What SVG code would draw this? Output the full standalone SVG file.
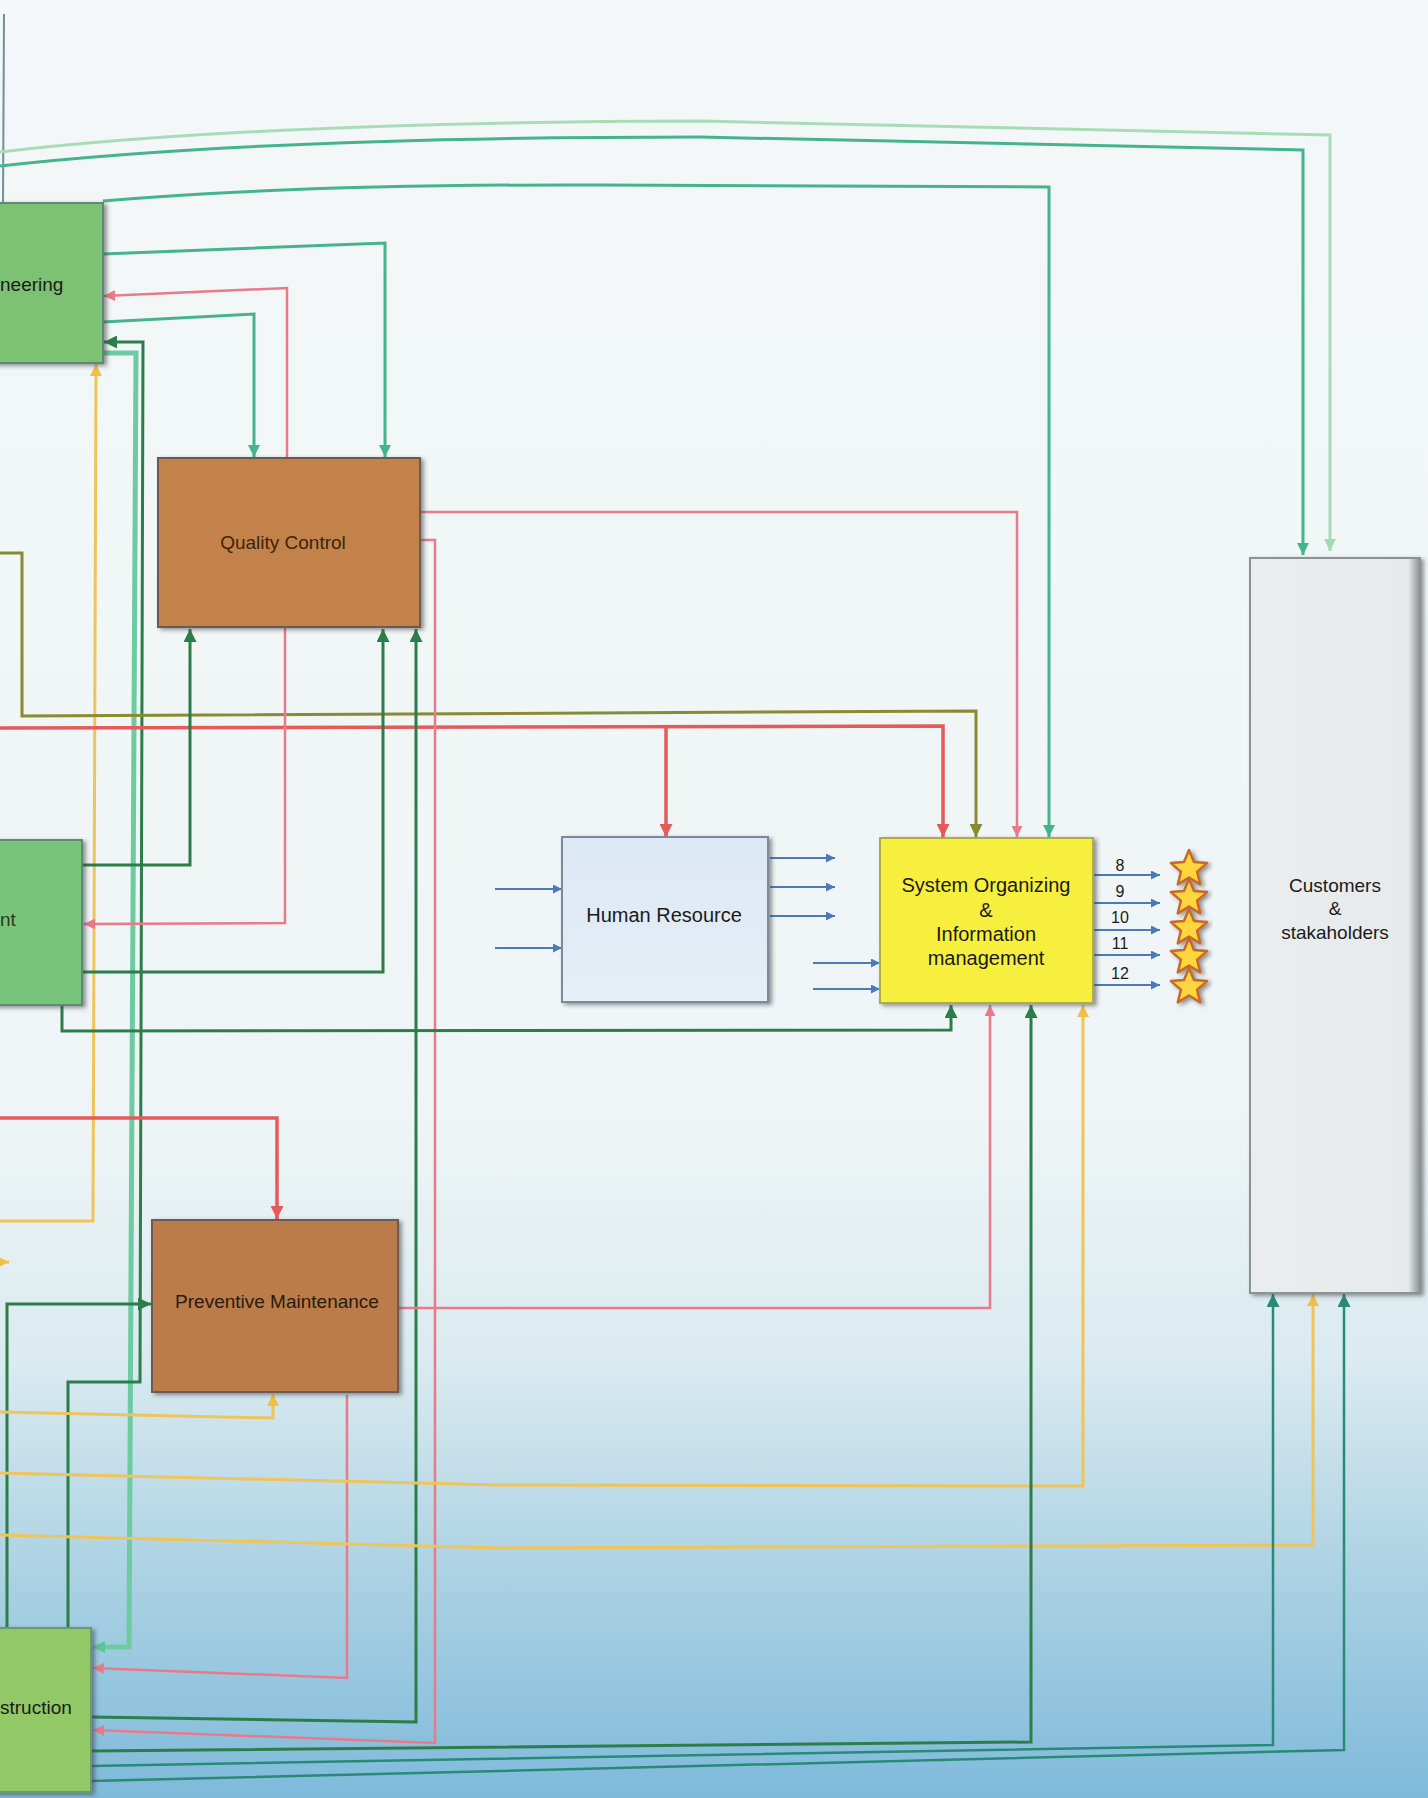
<svg xmlns="http://www.w3.org/2000/svg" width="1428" height="1798" viewBox="0 0 1428 1798">
<defs>
<linearGradient id="bg" x1="0" y1="0" x2="0" y2="1">
<stop offset="0" stop-color="#f3f7f7"/>
<stop offset="0.62" stop-color="#eff5f6"/>
<stop offset="0.76" stop-color="#d9eaf0"/>
<stop offset="0.88" stop-color="#aad1e3"/>
<stop offset="1" stop-color="#7fbadb"/>
</linearGradient>
<linearGradient id="hrfill" x1="0" y1="0" x2="0" y2="1">
<stop offset="0" stop-color="#dce8f4"/>
<stop offset="1" stop-color="#e6eef6"/>
</linearGradient>
<linearGradient id="custfill" x1="0" y1="0" x2="1" y2="0">
<stop offset="0" stop-color="#e9eded"/>
<stop offset="0.93" stop-color="#e6eaea"/>
<stop offset="1" stop-color="#8a9090"/>
</linearGradient>
<filter id="sh" x="-10%" y="-10%" width="125%" height="125%">
<feDropShadow dx="3" dy="2" stdDeviation="2" flood-color="#404040" flood-opacity="0.55"/>
</filter>
<marker id="a-red" viewBox="0 0 10 10" refX="10" refY="5" markerWidth="13" markerHeight="13" markerUnits="userSpaceOnUse" orient="auto"><path d="M0,0 L10,5 L0,10 z" fill="#e55a5a"/></marker>
<marker id="a-pink" viewBox="0 0 10 10" refX="10" refY="5" markerWidth="11" markerHeight="11" markerUnits="userSpaceOnUse" orient="auto"><path d="M0,0 L10,5 L0,10 z" fill="#e87a8a"/></marker>
<marker id="a-teal" viewBox="0 0 10 10" refX="10" refY="5" markerWidth="12" markerHeight="12" markerUnits="userSpaceOnUse" orient="auto"><path d="M0,0 L10,5 L0,10 z" fill="#45b48c"/></marker>
<marker id="a-pale" viewBox="0 0 10 10" refX="10" refY="5" markerWidth="12" markerHeight="12" markerUnits="userSpaceOnUse" orient="auto"><path d="M0,0 L10,5 L0,10 z" fill="#9fdab0"/></marker>
<marker id="a-lteal" viewBox="0 0 10 10" refX="10" refY="5" markerWidth="12" markerHeight="12" markerUnits="userSpaceOnUse" orient="auto"><path d="M0,0 L10,5 L0,10 z" fill="#5cc496"/></marker>
<marker id="a-dg" viewBox="0 0 10 10" refX="10" refY="5" markerWidth="13" markerHeight="13" markerUnits="userSpaceOnUse" orient="auto"><path d="M0,0 L10,5 L0,10 z" fill="#2d7d4a"/></marker>
<marker id="a-bt" viewBox="0 0 10 10" refX="10" refY="5" markerWidth="13" markerHeight="13" markerUnits="userSpaceOnUse" orient="auto"><path d="M0,0 L10,5 L0,10 z" fill="#2a8a78"/></marker>
<marker id="a-olive" viewBox="0 0 10 10" refX="10" refY="5" markerWidth="13" markerHeight="13" markerUnits="userSpaceOnUse" orient="auto"><path d="M0,0 L10,5 L0,10 z" fill="#8a8a34"/></marker>
<marker id="a-yel" viewBox="0 0 10 10" refX="10" refY="5" markerWidth="12" markerHeight="12" markerUnits="userSpaceOnUse" orient="auto"><path d="M0,0 L10,5 L0,10 z" fill="#efbf4a"/></marker>
<marker id="a-blue" viewBox="0 0 10 10" refX="10" refY="5" markerWidth="10" markerHeight="9" markerUnits="userSpaceOnUse" orient="auto"><path d="M0,0 L10,5 L0,10 z" fill="#4a7ab8"/></marker>
<path id="star" d="M0,-19 L5,-6.9 L18.1,-5.9 L8.1,2.6 L11.2,15.4 L0,8.5 L-11.2,15.4 L-8.1,2.6 L-18.1,-5.9 L-5,-6.9 Z"/>
<style>
.c{fill:none;stroke-linejoin:miter}
.red{stroke:#e55a5a;stroke-width:3.5}
.pink{stroke:#e87a8a;stroke-width:2.5}
.teal{stroke:#45b48c;stroke-width:3}
.pale{stroke:#a8dcb8;stroke-width:3}
.lteal{stroke:#6ccba0;stroke-width:5}
.dg{stroke:#2d7d4a;stroke-width:3}
.bt{stroke:#2a8a78;stroke-width:2.5}
.olive{stroke:#8a8a34;stroke-width:3}
.yel{stroke:#efc45a;stroke-width:3}
.blue{stroke:#4a7ab8;stroke-width:2}
.t{font-family:"Liberation Sans",Arial,sans-serif;font-size:19px;fill:#1a1a1a}
.tm{text-anchor:middle}
.num{font-family:"Liberation Sans",Arial,sans-serif;font-size:16px;fill:#1a1a1a;text-anchor:middle}
.box{filter:url(#sh)}
</style>
</defs>
<rect x="0" y="0" width="1428" height="1798" fill="url(#bg)"/>
<line x1="4" y1="14" x2="3" y2="203" stroke="#6f8f9c" stroke-width="2"/>
<g id="connectors">
<path class="c pale" d="M0,152 Q260,122 700,121 L1330,135 L1330,551" marker-end="url(#a-pale)"/>
<path class="c teal" d="M0,166 Q260,137 700,137 L1303,150 L1303,555" marker-end="url(#a-teal)"/>
<path class="c teal" d="M103,201 Q300,184 600,185 L1049,187 L1049,837" marker-end="url(#a-teal)"/>
<path class="c teal" d="M103,254 L385,243 L385,457" marker-end="url(#a-teal)"/>
<path class="c teal" d="M103,322 L254,314 L254,457" marker-end="url(#a-teal)"/>
<path class="c pink" d="M287,458 L287,288 L104,296" marker-end="url(#a-pink)"/>
<path class="c lteal" d="M103,353 L136,353 L129,1647 L93,1647" marker-end="url(#a-lteal)"/>
<path class="c dg" d="M68,1628 L68,1382 L140,1382 L143,342 L104,342" marker-end="url(#a-dg)"/>
<path class="c yel" d="M0,1221 L93,1221 L96,364" marker-end="url(#a-yel)"/>
<path class="c olive" d="M0,553 L22,553 L22,716 L976,711 L976,837" marker-end="url(#a-olive)"/>
<path class="c red" d="M0,728 L943,726 L943,837" marker-end="url(#a-red)"/>
<path class="c red" d="M666,727 L666,837" marker-end="url(#a-red)"/>
<path class="c pink" d="M420,512 L1017,512 L1017,837" marker-end="url(#a-pink)"/>
<path class="c pink" d="M420,540 L435,540 L435,1743 L93,1730" marker-end="url(#a-pink)"/>
<path class="c pink" d="M285,627 L285,923 L84,924" marker-end="url(#a-pink)"/>
<path class="c dg" d="M82,865 L190,865 L190,629" marker-end="url(#a-dg)"/>
<path class="c dg" d="M82,972 L383,972 L383,629" marker-end="url(#a-dg)"/>
<path class="c dg" d="M62,1005 L62,1031 L951,1030 L951,1005" marker-end="url(#a-dg)"/>
<path class="c red" d="M0,1118 L277,1118 L277,1219" marker-end="url(#a-red)"/>
<path class="c dg" d="M7,1628 L7,1304 L151,1304" marker-end="url(#a-dg)"/>
<path class="c yel" d="M0,1262 L9,1262" marker-end="url(#a-yel)"/>
<path class="c yel" d="M0,1412 L273,1418 L273,1394" marker-end="url(#a-yel)"/>
<path class="c dg" d="M91,1717 L416,1722 L416,629" marker-end="url(#a-dg)"/>
<path class="c pink" d="M398,1308 L990,1308 L990,1005" marker-end="url(#a-pink)"/>
<path class="c pink" d="M347,1395 L347,1678 L93,1668" marker-end="url(#a-pink)"/>
<path class="c yel" d="M0,1473 L500,1485 L1083,1486 L1083,1005" marker-end="url(#a-yel)"/>
<path class="c yel" d="M0,1535 L500,1548 L1313,1545 L1313,1294" marker-end="url(#a-yel)"/>
<path class="c dg" d="M91,1751 L1031,1742 L1031,1005" marker-end="url(#a-dg)"/>
<path class="c bt" d="M91,1766 L1273,1745 L1273,1294" marker-end="url(#a-bt)"/>
<path class="c bt" d="M91,1781 L1344,1750 L1344,1294" marker-end="url(#a-bt)"/>
<path class="c blue" d="M495,889 L562,889" marker-end="url(#a-blue)"/>
<path class="c blue" d="M495,948 L562,948" marker-end="url(#a-blue)"/>
<path class="c blue" d="M770,858 L835,858" marker-end="url(#a-blue)"/>
<path class="c blue" d="M770,887 L835,887" marker-end="url(#a-blue)"/>
<path class="c blue" d="M770,916 L835,916" marker-end="url(#a-blue)"/>
<path class="c blue" d="M813,963 L880,963" marker-end="url(#a-blue)"/>
<path class="c blue" d="M813,989 L880,989" marker-end="url(#a-blue)"/>
<path class="c blue" d="M1094,875 L1160,875" marker-end="url(#a-blue)"/>
<path class="c blue" d="M1094,903 L1160,903" marker-end="url(#a-blue)"/>
<path class="c blue" d="M1094,930 L1160,930" marker-end="url(#a-blue)"/>
<path class="c blue" d="M1094,955 L1160,955" marker-end="url(#a-blue)"/>
<path class="c blue" d="M1094,985 L1160,985" marker-end="url(#a-blue)"/>
</g>
<g id="n-engineering">
<rect class="box" x="-10" y="203" width="113" height="160" fill="#7cc272" stroke="#5a8a78" stroke-width="2"/>
<text class="t" x="0" y="291" fill="#2a3a20">neering</text>
</g>
<g id="n-quality-control">
<rect class="box" x="158" y="458" width="262" height="169" fill="#c2824a" stroke="#6a5a52" stroke-width="2"/>
<text class="t tm" x="283" y="549" style="fill:#3a2410">Quality Control</text>
</g>
<g id="n-management">
<rect class="box" x="-10" y="840" width="92" height="165" fill="#78c47a" stroke="#5a8a78" stroke-width="2"/>
<text class="t" x="0" y="926" style="fill:#2a3a20">nt</text>
</g>
<g id="n-human-resource">
<rect class="box" x="562" y="837" width="206" height="165" fill="url(#hrfill)" stroke="#7a8a9a" stroke-width="2"/>
<text class="t tm" x="664" y="922" style="font-size:20px">Human Resource</text>
</g>
<g id="n-soim">
<rect class="box" x="880" y="838" width="213" height="165" fill="#f7ef3c" stroke="#b0ac40" stroke-width="2"/>
<text class="t tm" x="986" y="892" style="font-size:20px">System Organizing</text>
<text class="t tm" x="986" y="917" style="font-size:20px">&amp;</text>
<text class="t tm" x="986" y="941" style="font-size:20px">Information</text>
<text class="t tm" x="986" y="965" style="font-size:20px">management</text>
<text class="num" x="1120" y="871">8</text>
<text class="num" x="1120" y="897">9</text>
<text class="num" x="1120" y="923">10</text>
<text class="num" x="1120" y="949">11</text>
<text class="num" x="1120" y="979">12</text>
</g>
<g id="n-stars" fill="#ffd63c" stroke="#c8682a" stroke-width="2.5" stroke-linejoin="round" filter="url(#sh)">
<use href="#star" x="1189" y="869"/>
<use href="#star" x="1189" y="898"/>
<use href="#star" x="1189" y="928"/>
<use href="#star" x="1189" y="957"/>
<use href="#star" x="1189" y="987"/>
</g>
<g id="n-customers">
<rect class="box" x="1250" y="558" width="170" height="735" fill="url(#custfill)" stroke="#8a9292" stroke-width="2"/>
<text class="t tm" x="1335" y="892">Customers</text>
<text class="t tm" x="1335" y="915">&amp;</text>
<text class="t tm" x="1335" y="939">stakaholders</text>
</g>
<g id="n-preventive-maintenance">
<rect class="box" x="152" y="1220" width="246" height="172" fill="#bb7b48" stroke="#6a5a5a" stroke-width="2"/>
<text class="t tm" x="277" y="1308" style="fill:#2a1a10">Preventive Maintenance</text>
</g>
<g id="n-construction">
<rect class="box" x="-10" y="1628" width="101" height="164" fill="#92c866" stroke="#6a9a70" stroke-width="2"/>
<text class="t" x="0" y="1714">struction</text>
</g>
</svg>
